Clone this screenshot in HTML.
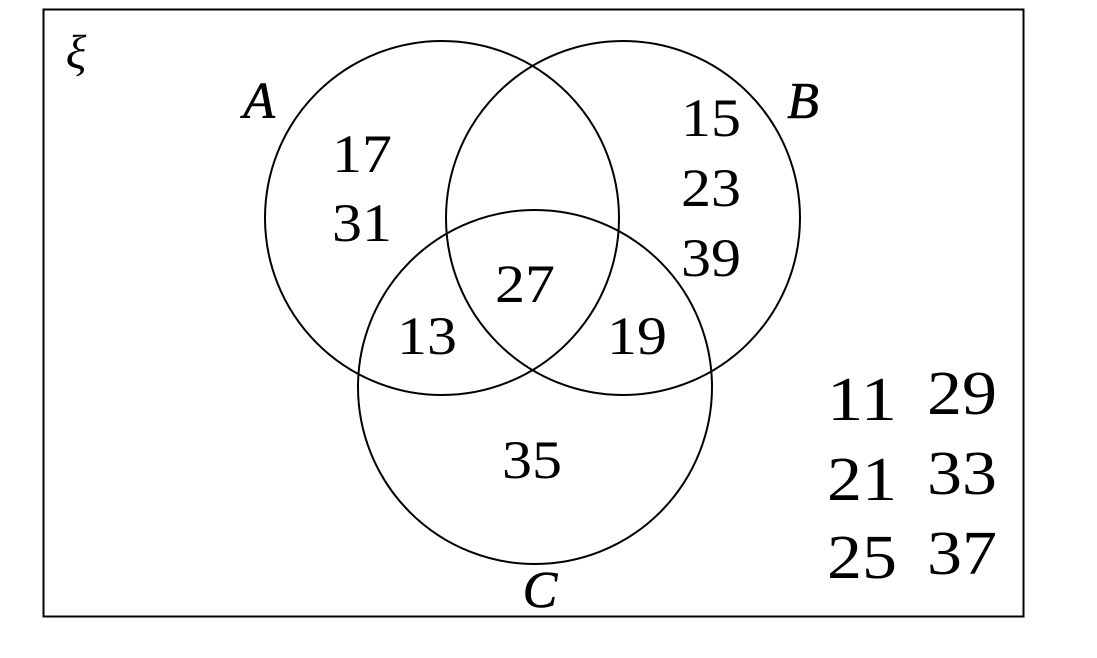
<!DOCTYPE html>
<html><head><meta charset="utf-8"><style>
html,body{margin:0;padding:0;background:#fff;}
svg{display:block;}
text{font-family:"Liberation Serif","DejaVu Serif",serif;fill:#000;}
</style></head><body>
<svg width="1097" height="658" viewBox="0 0 1097 658" xmlns="http://www.w3.org/2000/svg">
<rect x="43.5" y="9.5" width="980" height="607" fill="none" stroke="#000" stroke-width="2"/>
<circle cx="442" cy="218" r="177" fill="none" stroke="#000" stroke-width="2"/>
<circle cx="623" cy="218" r="177" fill="none" stroke="#000" stroke-width="2"/>
<circle cx="535" cy="387" r="177" fill="none" stroke="#000" stroke-width="2"/>
<text x="76" y="68" font-size="48" font-style="italic" text-anchor="middle">ξ</text>
<g font-size="52" font-style="italic" text-anchor="middle" stroke="#000" stroke-width="0.6">
<text x="259" y="118">A</text>
<text x="803" y="118">B</text>
<text x="540" y="607">C</text>
</g>
<g font-size="54" text-anchor="middle">
<text x="362" y="172" textLength="60" lengthAdjust="spacingAndGlyphs">17</text>
<text x="362" y="241" textLength="60" lengthAdjust="spacingAndGlyphs">31</text>
<text x="711" y="136" textLength="60" lengthAdjust="spacingAndGlyphs">15</text>
<text x="711" y="206" textLength="60" lengthAdjust="spacingAndGlyphs">23</text>
<text x="711" y="276" textLength="60" lengthAdjust="spacingAndGlyphs">39</text>
<text x="525" y="302" textLength="60" lengthAdjust="spacingAndGlyphs">27</text>
<text x="427" y="354" textLength="60" lengthAdjust="spacingAndGlyphs">13</text>
<text x="637" y="354" textLength="60" lengthAdjust="spacingAndGlyphs">19</text>
<text x="532" y="478" textLength="60" lengthAdjust="spacingAndGlyphs">35</text>
</g>
<g font-size="62" text-anchor="middle">
<text x="862" y="420" textLength="70" lengthAdjust="spacingAndGlyphs">11</text>
<text x="862" y="500" textLength="70" lengthAdjust="spacingAndGlyphs">21</text>
<text x="862" y="578" textLength="70" lengthAdjust="spacingAndGlyphs">25</text>
<text x="962" y="414" textLength="70" lengthAdjust="spacingAndGlyphs">29</text>
<text x="962" y="494" textLength="70" lengthAdjust="spacingAndGlyphs">33</text>
<text x="962" y="574" textLength="70" lengthAdjust="spacingAndGlyphs">37</text>
</g>
</svg>
</body></html>
